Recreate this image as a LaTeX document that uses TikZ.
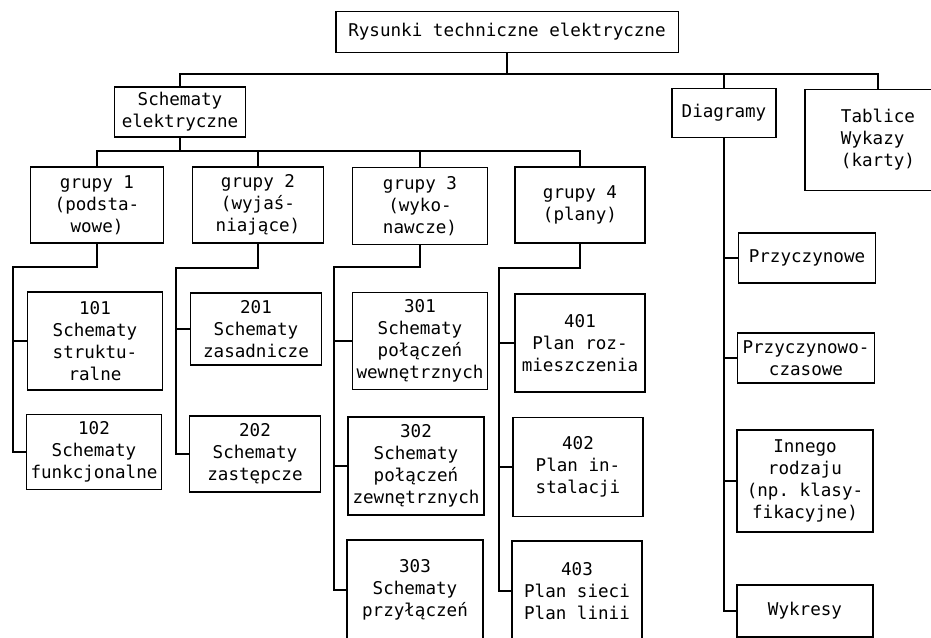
\documentclass[tikz,border=0pt]{standalone}
\usepackage{fontspec}
\setmonofont{DejaVu Sans Mono}
\usepackage{tikz}
\usetikzlibrary{positioning}

\begin{document}
\begin{tikzpicture}[x=0.02cm,y=-0.02cm,every node/.style={draw,line width=1.1pt,inner sep=1pt,align=center,font=\ttfamily\fontsize{10}{12.5}\selectfont,minimum width=2.7cm},conn/.style={line width=0.6pt}]
\useasboundingbox (0,0) rectangle (931,638);
\clip (0,0) rectangle (931,638);
  \node (top) at (507,32)[minimum width=6.86cm,minimum height=0.82cm]{Rysunki techniczne elektryczne};
  \node (se) at (180,112)[minimum width=2.62cm,minimum height=1cm]{Schematy\\elektryczne};
  \node (dia) at (724,113)[minimum width=2.08cm,minimum height=0.98cm]{Diagramy};
  \node (tab) at (878,140)[minimum width=2.92cm,minimum height=2.02cm,align=left]{Tablice\\Wykazy\\(karty)};
  \node (g1) at (97,205)[minimum width=2.66cm,minimum height=1.52cm]{grupy 1\\(podsta-\\wowe)};
  \node (g2) at (258,205)[minimum width=2.62cm,minimum height=1.52cm]{grupy 2\\(wyjaś-\\niające)};
  \node (g3) at (420,206)[minimum width=2.7cm,minimum height=1.54cm]{grupy 3\\(wyko-\\nawcze)};
  \node (g4) at (580,205)[minimum width=2.6cm,minimum height=1.52cm]{grupy 4\\(plany)};
  \node (101) at (95,341)[minimum height=1.96cm]{101\\Schematy\\struktu-\\ralne};
  \node (102) at (94,452)[minimum height=1.5cm]{102\\Schematy\\funkcjonalne};
  \node (201) at (256,329)[minimum width=2.62cm,minimum height=1.44cm]{201\\Schematy\\zasadnicze};
  \node (202) at (255,454)[minimum width=2.62cm,minimum height=1.52cm]{202\\Schematy\\zastępcze};
  \node (301) at (420,341)[minimum height=1.94cm]{301\\Schematy\\połączeń\\wewnętrznych};
  \node (302) at (416,466)[minimum width=2.72cm,minimum height=1.96cm]{302\\Schematy\\połączeń\\zewnętrznych};
  \node (303) at (415,590)[minimum width=2.72cm,minimum height=2cm]{303\\Schematy\\przyłączeń};
  \node (401) at (580,343)[minimum width=2.6cm,minimum height=1.96cm]{401\\Plan roz-\\mieszczenia};
  \node (402) at (578,467)[minimum width=2.6cm,minimum height=1.98cm]{402\\Plan in-\\stalacji};
  \node (403) at (577,591)[minimum width=2.6cm,minimum height=2cm]{403\\Plan sieci\\Plan linii};
  \node (prz) at (807,258)[minimum width=2.74cm,minimum height=1cm]{Przyczynowe};
  \node (pc) at (806,358)[minimum width=2.74cm,minimum height=1cm]{Przyczynowo-\\czasowe};
  \node (inn) at (805,481)[minimum width=2.72cm,minimum height=2.04cm]{Innego\\rodzaju\\(np. klasy-\\fikacyjne)};
  \node (wyk) at (805,611)[minimum width=2.72cm,minimum height=1.04cm]{Wykresy};
\coordinate (bus) at (507,74);
\coordinate (gbus) at (180,151);
\coordinate (c1) at (13,267);
\coordinate (c2) at (176,268);
\coordinate (c3) at (334,267);
\coordinate (c4) at (499,268);
  \draw[conn](top)--(bus);
  \draw[conn](se)|-(bus)-|(tab);
  \draw[conn](bus)-|(dia);
  \draw[conn](se)--(gbus);
  \draw[conn](g1)|-(gbus)-|(g4);
  \draw[conn](gbus)-|(g2);
  \draw[conn](gbus)-|(g3);
  \draw[conn](g1)|-(c1)|-(101);
  \draw[conn](c1)|-(102);
  \draw[conn](g2)|-(c2)|-(201);
  \draw[conn](c2)|-(202);
  \draw[conn](g3)|-(c3)|-(301);
  \draw[conn](c3)|-(302);
  \draw[conn](c3)|-(303);
  \draw[conn](g4)|-(c4)|-(401);
  \draw[conn](c4)|-(402);
  \draw[conn](c4)|-(403);
  \draw[conn](dia)|-(prz);
  \draw[conn](dia)|-(pc);
  \draw[conn](dia)|-(inn);
  \draw[conn](dia)|-(wyk);
  \end{tikzpicture}
\end{document}
